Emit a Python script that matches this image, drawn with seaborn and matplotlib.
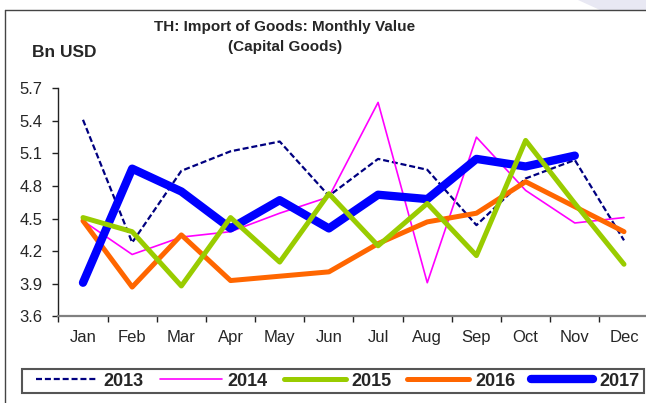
import pandas as pd
import seaborn as sns
import matplotlib.pyplot as plt
from matplotlib.lines import Line2D
from matplotlib.patches import Polygon, Rectangle

months = ['Jan', 'Feb', 'Mar', 'Apr', 'May', 'Jun', 'Jul', 'Aug', 'Sep', 'Oct', 'Nov', 'Dec']
years = ['2013', '2014', '2015', '2016', '2017']

val_2013 = [5.41, 4.28, 4.94, 5.12, 5.21, 4.71, 5.05, 4.95, 4.44, 4.87, 5.04, 4.30]
val_2014 = [4.48, 4.17, 4.33, 4.38, 4.55, 4.70, 5.57, 3.91, 5.25, 4.76, 4.46, 4.51]
val_2015 = [4.51, 4.38, 3.88, 4.51, 4.10, 4.73, 4.25, 4.64, 4.16, 5.22, 4.64, 4.08]
val_2016 = [4.48, 3.87, 4.35, 3.93, 3.97, 4.01, 4.27, 4.47, 4.55, 4.84, 4.61, 4.38]
val_2017 = [3.91, 4.96, 4.75, 4.41, 4.67, 4.41, 4.72, 4.68, 5.05, 4.98, 5.08]

yticks = [3.6, 3.9, 4.2, 4.5, 4.8, 5.1, 5.4, 5.7]

colors = {'2013': '#000080', '2014': '#ff00ff', '2015': '#99cc00',
          '2016': '#ff6600', '2017': '#0000ff'}
widths = {'2013': 1.6, '2014': 1.2, '2015': 3.6, '2016': 3.6, '2017': 6.0}
dash_map = {'2013': (2.7, 1.3), '2014': '', '2015': '', '2016': '', '2017': ''}

rows = []
for yr, vals in zip(years, [val_2013, val_2014, val_2015, val_2016, val_2017]):
    for m, v in zip(months, vals):
        rows.append({'Month': m, 'Value': v, 'Year': yr})
df = pd.DataFrame(rows)

sns.set_style('ticks')
plt.rcParams['font.family'] = ['Liberation Sans', 'DejaVu Sans']

fig = plt.figure(figsize=(6.46, 4.03), dpi=100)
ax = fig.add_axes([0.0904, 0.2149, 0.9136, 0.566])

sns.lineplot(data=df, x='Month', y='Value', hue='Year', size='Year', style='Year',
             palette=colors, sizes=widths, dashes=dash_map, hue_order=years,
             size_order=years, style_order=years, sort=False, estimator=None,
             legend=False, ax=ax)

for yr, line in zip(years, ax.lines):
    line.set_solid_capstyle('round')
    line.set_solid_joinstyle('round')
    if yr == '2015':
        line.set_zorder(2.6)

ax.set_xlim(-0.5, 11.5)
ax.set_ylim(3.6, 5.7)
ax.set_xlabel('')
ax.set_ylabel('')
ax.set_xticks(range(len(months)))
ax.set_xticklabels(months, fontsize=12)
ax.set_xticks([i - 0.5 for i in range(len(months))], minor=True)
ax.set_yticks(yticks)
ax.set_yticklabels(['%.1f' % t for t in yticks], fontsize=12)
ax.tick_params(axis='x', which='major', length=0, pad=10)
ax.tick_params(axis='x', which='minor', direction='out', length=4, width=1, color='#222222')
ax.tick_params(axis='y', direction='out', length=4.3, width=1, color='#222222', pad=7)
for s in ['top', 'right']:
    ax.spines[s].set_visible(False)
ax.spines['left'].set_color('#222222')
ax.spines['left'].set_linewidth(1.0)
ax.spines['bottom'].set_color('#808080')
ax.spines['bottom'].set_linewidth(1.6)

fig.text(285 / 646, 1 - 27 / 403, 'TH: Import of Goods: Monthly Value',
         ha='center', va='center', fontsize=11, fontweight='bold')
fig.text(285 / 646, 1 - 47 / 403, '(Capital Goods)',
         ha='center', va='center', fontsize=11, fontweight='bold')
fig.text(31.7 / 646, 1 - 52.5 / 403, 'Bn USD', ha='left', va='center',
         fontsize=12.5, fontweight='bold')

handles = []
for yr in years:
    h = Line2D([], [], color=colors[yr], lw=widths[yr], solid_capstyle='round')
    if dash_map[yr]:
        h.set_dashes(dash_map[yr])
    handles.append(h)
leg = fig.legend(handles, years, loc='center', ncol=5,
                 bbox_to_anchor=(337.5 / 646, 1 - 381.3 / 403),
                 handlelength=3.43, handletextpad=0.32, columnspacing=0.89,
                 frameon=False, borderpad=0, borderaxespad=0,
                 prop={'weight': 'bold', 'size': 13})
# legend box
fig.add_artist(Rectangle((21.5 / 646, 1 - 393.3 / 403), (644 - 21.5) / 646, 24 / 403,
                         transform=fig.transFigure, facecolor='none',
                         edgecolor='#555555', lw=1.5))

# chart frame and corner decoration
fig.add_artist(Line2D([5 / 646, 5 / 646], [0, 1 - 10 / 403], color='#444444', lw=1.0))
fig.add_artist(Line2D([5 / 646, 1], [1 - 10 / 403, 1 - 10 / 403], color='#444444', lw=1.0))
fig.add_artist(Polygon([(578 / 646, 1), (1, 1), (1, 1 - 10 / 403), (600 / 646, 1 - 10 / 403)],
                       closed=True, transform=fig.transFigure, facecolor='#e8e8f3',
                       edgecolor='none', zorder=-1))

fig.savefig('out.png', dpi=100)
